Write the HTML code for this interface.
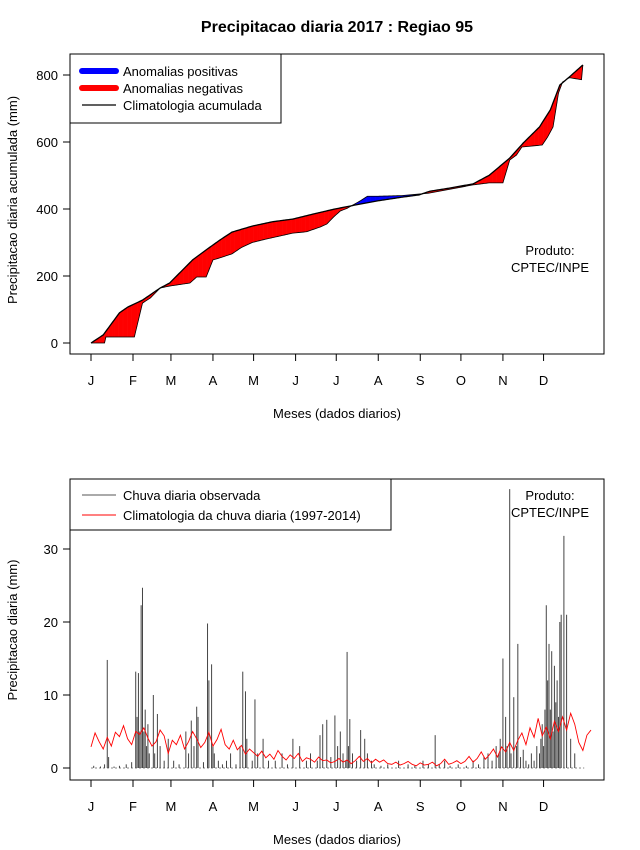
<!DOCTYPE html>
<html><head><meta charset="utf-8">
<style>
body{margin:0;background:#fff;}
svg{display:block;font-family:"Liberation Sans",Arial,sans-serif;}
</style></head>
<body>
<svg id="chart" width="640" height="850" viewBox="0 0 640 850">
<rect width="640" height="850" fill="#fff"/>
<text x="337" y="32" text-anchor="middle" font-size="16" font-weight="bold">Precipitacao diaria 2017 : Regiao 95</text>
<g id="top"></g>
<g id="bot"></g>
</svg>
<script>
// ---- Top chart data (cumulative mm) ----
const climDays = [1,10,22,28,39,52,59,76,86,96,105,120,135,150,165,181,200,212,230,243,251,265,283,295,310,320,332,340,347,354,364];
const climValues = [0,24,90,107,128,164,179,248,278,307,331,349,362,370,385,400,415,424,435,442,453,462,475,501,552,597,645,696,770,794,830];
const obsDays = [1,11,12,33,39,45,52,59,74,79,86,91,96,105,112,120,130,140,150,160,170,175,180,185,190,200,205,212,230,250,270,283,295,305,310,315,319,334,338,342,346,349,354,363,364];
const obsValues = [0,0,18,18,119,135,164,170,179,197,197,248,254,266,285,300,310,319,328,332,346,355,376,394,402,425,438,438,440,447,462,472,478,478,546,561,585,591,615,645,746,779,792,786,830];
const topTicks = [0,200,400,600,800];
const monthLabels = ["J","F","M","A","M","J","J","A","S","O","N","D"];
const monthStart = [1,32,60,91,121,152,182,213,244,274,305,335];

// ---- Bottom chart data (daily mm) ----
const rainDays = [3,8,11,13,14,18,22,27,31,34,35,36,37,38,39,40,41,42,43,44,47,48,50,52,55,58,62,66,71,73,75,77,79,80,84,87,88,90,91,92,95,98,101,104,108,111,113,115,116,120,122,124,128,132,137,142,146,150,155,160,163,168,170,172,175,178,181,183,185,187,189,190,191,192,194,197,200,203,205,208,210,215,220,228,235,240,246,250,255,258,262,266,272,278,283,287,291,294,297,300,302,303,305,307,308,310,311,313,315,316,318,320,322,324,326,328,330,332,333,334,335,336,337,338,339,340,341,342,343,344,345,346,347,348,350,352,355,358];
const rainValues = [0.3,0.2,0.5,14.8,1.5,0.2,0.3,0.5,0.8,13.2,7,13,5,22.3,24.7,5,8,3,6,2,10,2,7.4,3,1,4,1,0.5,5,2,6.5,3,8.4,7,0.8,19.8,12,14.2,3,2,1,0.5,1,2,0.5,3,13.2,10.5,4,1,9.4,2,4,1,1,2,0.5,4,3,1,2,1,4.5,6,6.6,1.5,7.2,3,5,2,1,15.9,3,6.7,2,1,5.2,4,2,1,0.5,0.3,0.5,1,0.5,0.3,1,0.5,4.5,0.5,1,0.3,0.5,0.3,1,0.5,1.5,2,1,3,2,4,15,7,3,38.2,2,9.7,3,17,1.5,2.5,1,0.5,2,1,3,2,4,6,3,8,22.3,12,17,8,16,5,14,9,12,7,20,21,31.8,21,4,2,1,0.5,1,0.5];
const rainClim = [2.9,4.8,3.6,2.6,4.2,3.0,4.9,4.3,5.8,4.0,3.2,5.0,4.6,5.5,4.1,3.0,3.6,5.2,4.4,2.0,3.8,3.2,4.5,2.6,3.6,5.0,4.0,2.8,3.5,4.9,3.0,3.9,5.3,3.2,2.6,3.8,2.5,3.1,1.9,2.6,2.1,1.6,2.3,1.4,1.9,1.2,2.4,1.6,1.1,1.8,1.3,2.0,0.9,1.4,1.2,0.8,1.5,1.0,1.1,0.7,0.9,1.3,0.8,1.1,0.6,1.0,1.6,0.9,1.3,0.7,1.2,0.8,1.1,0.6,0.5,0.8,0.4,0.6,0.9,0.5,0.3,0.7,0.4,0.5,0.8,0.3,0.6,1.2,0.5,0.7,1.0,0.6,0.9,1.6,0.8,1.3,2.2,1.2,1.8,2.6,1.5,2.9,2.2,3.5,2.4,3.8,4.8,3.2,5.5,4.2,6.8,4.4,5.6,4.0,6.4,5.0,7.0,5.2,7.5,6.0,3.5,2.4,4.5,5.2];
const botTicks = [0,10,20,30];

const NS = "http://www.w3.org/2000/svg";
function mk(parent, tag, attrs, text){
  const e = document.createElementNS(NS, tag);
  for (const k in attrs) e.setAttribute(k, attrs[k]);
  if (text !== undefined) e.textContent = text;
  parent.appendChild(e);
  return e;
}
const xDay = d => 91 + (d - 1) * 1.355;
const yTop = v => 343 - v * 0.335;
const yBot = v => 768 - v * 7.3;
function interp(days, vals, d){
  for (let i = 0; i < days.length - 1; i++){
    if (d >= days[i] && d <= days[i+1]){
      const t = (d - days[i]) / (days[i+1] - days[i]);
      return vals[i] + t * (vals[i+1] - vals[i]);
    }
  }
  return vals[vals.length - 1];
}

function frame(g, y0, y1, ticks, yf, ytitle, ycenter){
  const box = mk(g, "rect", {x:70, y:y0, width:534, height:y1-y0, fill:"none", stroke:"#000", "stroke-width":1});
  
  
  ticks.forEach(t => {
    const y = yf(t);
    const tk = mk(g, "line", {x1:63, x2:70, y1:y, y2:y, stroke:"#000"});
    
    
    const lb = mk(g, "text", {x:58, y:y+5, "text-anchor":"end", "font-size":13}, String(t));
    
    
  });
  monthStart.forEach((d, i) => {
    const x = xDay(d);
    const tk = mk(g, "line", {x1:x, x2:x, y1:y1, y2:y1+7, stroke:"#000"});
    
    
    const lb = mk(g, "text", {x:x, y:y1+31, "text-anchor":"middle", "font-size":13}, monthLabels[i]);
    
    
  });
  const xt = mk(g, "text", {x:337, y:y1+64, "text-anchor":"middle", "font-size":13}, "Meses (dados diarios)");
  
  
  const yt = mk(g, "text", {x:0, y:0, "text-anchor":"middle", "font-size":13, transform:`translate(17,${ycenter}) rotate(-90)`}, ytitle);
  
  
}

// ---- Top panel ----
const gt = document.getElementById("top");
frame(gt, 54, 354, topTicks, yTop, "Precipitacao diaria acumulada (mm)", 200);
const fills = mk(gt, "g", {});


for (let d = 1; d < 364; d++){
  const c0 = interp(climDays, climValues, d), c1 = interp(climDays, climValues, d+1);
  const o0 = interp(obsDays, obsValues, d), o1 = interp(obsDays, obsValues, d+1);
  const pos = (o0 + o1) > (c0 + c1);
  const p = mk(fills, "polygon", {points:`${xDay(d)},${yTop(c0)} ${xDay(d+1)+0.3},${yTop(c1)} ${xDay(d+1)+0.3},${yTop(o1)} ${xDay(d)},${yTop(o0)}`, fill: pos ? "#0000ff" : "#ff0000", stroke:"none"});
  
  
}
let obsPts = [], climPts = [];
for (let d = 1; d <= 364; d++){
  obsPts.push(`${xDay(d)},${yTop(interp(obsDays, obsValues, d))}`);
  climPts.push(`${xDay(d)},${yTop(interp(climDays, climValues, d))}`);
}
const ol = mk(gt, "polyline", {points:obsPts.join(" "), fill:"none", stroke:"#000", "stroke-width":0.8});


const cl = mk(gt, "polyline", {points:climPts.join(" "), fill:"none", stroke:"#000", "stroke-width":1.3});



// top legend
const lt = mk(gt, "g", {});


mk(lt, "rect", {x:70, y:54, width:211, height:69, fill:"#fff", stroke:"#000"});
[["#0000ff",6,"Anomalias positivas",71],["#ff0000",6,"Anomalias negativas",88],["#000",1.3,"Climatologia acumulada",105]].forEach(e => {
  const l = mk(lt, "line", {x1:82, x2:116, y1:e[3], y2:e[3], stroke:e[0], "stroke-width":e[1], "stroke-linecap": e[1] > 2 ? "round" : "butt"});
  
  
  const t = mk(lt, "text", {x:123, y:e[3]+5, "font-size":13}, e[2]);
  
  
});
const p1 = mk(gt, "text", {x:550, y:255, "text-anchor":"middle", "font-size":13}, "Produto:");


const p2 = mk(gt, "text", {x:550, y:272, "text-anchor":"middle", "font-size":13}, "CPTEC/INPE");



// ---- Bottom panel ----
const gb = document.getElementById("bot");
frame(gb, 479, 780, botTicks, yBot, "Precipitacao diaria (mm)", 630);
const zl = mk(gb, "line", {x1:xDay(1), x2:xDay(365), y1:yBot(0), y2:yBot(0), stroke:"#888", "stroke-dasharray":"2,2"});


rainDays.forEach((d, i) => {
  const x = xDay(d);
  const b = mk(gb, "line", {x1:x, x2:x, y1:yBot(0), y2:yBot(rainValues[i]), stroke:"#444", "stroke-width":1});
  
  
});
const rc = rainClim.map((v, i) => `${xDay(1 + 3*i)},${yBot(v)}`).join(" ");
const rl = mk(gb, "polyline", {points:rc, fill:"none", stroke:"#ff0000", "stroke-width":0.9});



const lb2 = mk(gb, "g", {});


mk(lb2, "rect", {x:70, y:479, width:321, height:51, fill:"#fff", stroke:"#000"});
[["#555","Chuva diaria observada",495],["#ff0000","Climatologia da chuva diaria (1997-2014)",515]].forEach(e => {
  const l = mk(lb2, "line", {x1:82, x2:116, y1:e[2], y2:e[2], stroke:e[0], "stroke-width":1});
  
  
  const t = mk(lb2, "text", {x:123, y:e[2]+5, "font-size":13}, e[1]);
  
  
});
const p3 = mk(gb, "text", {x:550, y:500, "text-anchor":"middle", "font-size":13}, "Produto:");


const p4 = mk(gb, "text", {x:550, y:517, "text-anchor":"middle", "font-size":13}, "CPTEC/INPE");


</script>
</body></html>
